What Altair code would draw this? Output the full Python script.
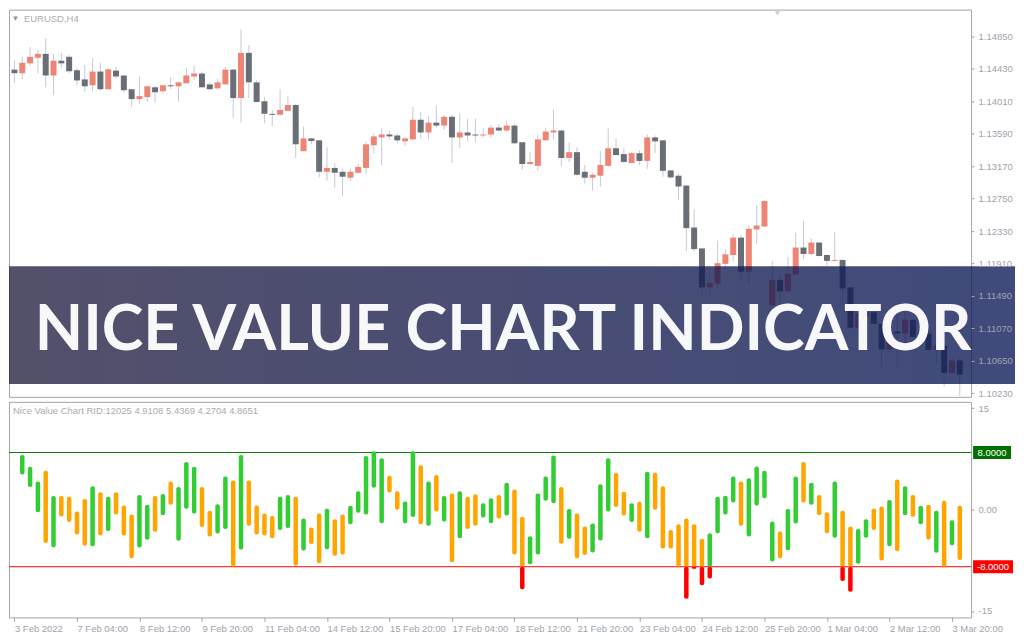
import altair as alt
import pandas as pd

# ---------------- data ----------------
TIME_LABELS = ["3 Feb 2022", "7 Feb 04:00", "8 Feb 12:00", "9 Feb 20:00", "11 Feb 04:00",
               "14 Feb 12:00", "15 Feb 20:00", "17 Feb 04:00", "18 Feb 12:00", "21 Feb 20:00",
               "23 Feb 04:00", "24 Feb 12:00", "25 Feb 20:00", "1 Mar 04:00", "2 Mar 12:00",
               "3 Mar 20:00"]
PRICE_TICKS = [1.14850, 1.14430, 1.14010, 1.13590, 1.13170, 1.12750,
               1.12330, 1.11910, 1.11490, 1.11070, 1.10650, 1.10230]
IND_TICK_POS = [14.2, 0.0, -14.2]
IND_TICK_LABELS = ["15", "0.00", "-15"]
LEVEL_HIGH, LEVEL_LOW = 8.0, -8.0
LEVEL_LABELS = ["8.0000", "-8.0000"]
SYMBOL = "EURUSD,H4"
IND_TITLE = "Nice Value Chart RID:12025 4.9108 5.4369 4.2704 4.8651"
BANNER = "NICE VALUE CHART INDICATOR"
BANNER_TOP, BANNER_BOTTOM, BANNER_BASE = 1.11876, 1.10349, 1.10794

OPEN = [1.14421, 1.14375, 1.14502, 1.14574, 1.14625, 1.14345, 1.14536, 1.14587, 1.14413, 1.14294,
        1.14218, 1.14396, 1.14167, 1.14408, 1.14345, 1.14167, 1.14039, 1.14065, 1.14192, 1.14141,
        1.14218, 1.14205, 1.14243, 1.14332, 1.14370, 1.14230, 1.14179, 1.14230, 1.14421, 1.14052,
        1.14638, 1.14256, 1.14010, 1.13848, 1.13836, 1.13887, 1.13963, 1.13365, 1.13530, 1.13505,
        1.13098, 1.13148, 1.13098, 1.13021, 1.13085, 1.13148, 1.13441, 1.13543, 1.13581, 1.13568,
        1.13492, 1.13518, 1.13772, 1.13607, 1.13734, 1.13696, 1.13810, 1.13543, 1.13607, 1.13581,
        1.13568, 1.13581, 1.13670, 1.13632, 1.13696, 1.13479, 1.13199, 1.13174, 1.13505, 1.13607,
        1.13632, 1.13276, 1.13352, 1.13098, 1.13021, 1.13047, 1.13174, 1.13403, 1.13327, 1.13212,
        1.13339, 1.13238, 1.13543, 1.13505, 1.13115, 1.13047, 1.12919, 1.12376, 1.12105, 1.11600,
        1.11651, 1.11905, 1.12020, 1.12245, 1.11804, 1.12351, 1.12389, 1.11371, 1.11697, 1.11549,
        1.11765, 1.12117, 1.12033, 1.12181, 1.12020, 1.11944, 1.11956, 1.11600, 1.11078, 1.11222,
        1.11277, 1.11129, 1.10798, 1.11031, 1.11002, 1.11180, 1.10959, 1.11002, 1.10790, 1.10845,
        1.10493, 1.10654]
HIGH = [1.14544, 1.14587, 1.14714, 1.14680, 1.14828, 1.14629, 1.14638, 1.14608, 1.14438, 1.14481,
        1.14574, 1.14510, 1.14438, 1.14459, 1.14345, 1.14167, 1.14332, 1.14213, 1.14213, 1.14218,
        1.14324, 1.14268, 1.14447, 1.14472, 1.14396, 1.14256, 1.14307, 1.14459, 1.14434, 1.14943,
        1.14739, 1.14281, 1.14065, 1.13899, 1.14167, 1.14078, 1.13976, 1.13683, 1.13535, 1.13505,
        1.13416, 1.13212, 1.13136, 1.13136, 1.13212, 1.13492, 1.13594, 1.13670, 1.13632, 1.13594,
        1.13543, 1.13938, 1.13874, 1.13823, 1.13950, 1.13836, 1.13836, 1.13848, 1.13785, 1.13785,
        1.13670, 1.13708, 1.13708, 1.13759, 1.13721, 1.13479, 1.13352, 1.13568, 1.13670, 1.13899,
        1.13645, 1.13479, 1.13416, 1.13187, 1.13085, 1.13365, 1.13658, 1.13530, 1.13403, 1.13352,
        1.13378, 1.13581, 1.13568, 1.13505, 1.13127, 1.13072, 1.12932, 1.12614, 1.12117, 1.11787,
        1.12207, 1.12096, 1.12287, 1.12274, 1.12402, 1.12665, 1.12733, 1.11944, 1.11765, 1.11990,
        1.12308, 1.12465, 1.12232, 1.12190, 1.12028, 1.12317, 1.11965, 1.11600, 1.11299, 1.11299,
        1.11299, 1.11129, 1.11065, 1.11400, 1.11328, 1.11193, 1.11065, 1.11044, 1.10959, 1.10938,
        1.10705, 1.10684]
LOW = [1.14247, 1.14298, 1.14468, 1.14375, 1.14192, 1.14090, 1.14438, 1.14375, 1.14218, 1.14128,
       1.14141, 1.14150, 1.14167, 1.14302, 1.14128, 1.13942, 1.13976, 1.14001, 1.13993, 1.14112,
       1.14171, 1.14001, 1.14243, 1.14281, 1.14192, 1.14154, 1.14162, 1.14230, 1.13798, 1.13734,
       1.14052, 1.14001, 1.13725, 1.13687, 1.13823, 1.13887, 1.13276, 1.13365, 1.13454, 1.13021,
       1.12983, 1.12894, 1.12779, 1.12983, 1.13072, 1.13072, 1.13339, 1.13187, 1.13518, 1.13467,
       1.13433, 1.13505, 1.13530, 1.13518, 1.13670, 1.13645, 1.13212, 1.13403, 1.13492, 1.13479,
       1.13543, 1.13543, 1.13619, 1.13619, 1.13454, 1.13123, 1.13187, 1.13110, 1.13505, 1.13518,
       1.13174, 1.13225, 1.13047, 1.12945, 1.12856, 1.12907, 1.13161, 1.13314, 1.13212, 1.13212,
       1.13187, 1.13136, 1.13339, 1.13034, 1.13008, 1.12729, 1.12071, 1.12071, 1.11511, 1.11498,
       1.11587, 1.11842, 1.11944, 1.11676, 1.11638, 1.12168, 1.12381, 1.11360, 1.11405, 1.11540,
       1.11765, 1.11965, 1.12020, 1.11999, 1.11884, 1.11935, 1.11405, 1.11050, 1.10981, 1.11214,
       1.11129, 1.10569, 1.10747, 1.10569, 1.10768, 1.10938, 1.10938, 1.10781, 1.10620, 1.10323,
       1.10471, 1.10196]
CLOSE = [1.14375, 1.14510, 1.14587, 1.14625, 1.14345, 1.14536, 1.14502, 1.14400, 1.14281, 1.14205,
         1.14396, 1.14167, 1.14425, 1.14332, 1.14154, 1.14039, 1.14078, 1.14205, 1.14128, 1.14218,
         1.14205, 1.14256, 1.14345, 1.14370, 1.14192, 1.14167, 1.14256, 1.14421, 1.14052, 1.14638,
         1.14256, 1.14001, 1.13848, 1.13836, 1.13899, 1.13963, 1.13454, 1.13530, 1.13496, 1.13098,
         1.13148, 1.13085, 1.13034, 1.13098, 1.13161, 1.13454, 1.13556, 1.13581, 1.13556, 1.13505,
         1.13530, 1.13772, 1.13607, 1.13734, 1.13696, 1.13810, 1.13543, 1.13607, 1.13568, 1.13568,
         1.13581, 1.13670, 1.13632, 1.13696, 1.13467, 1.13199, 1.13225, 1.13518, 1.13619, 1.13632,
         1.13276, 1.13352, 1.13059, 1.13021, 1.13059, 1.13187, 1.13403, 1.13314, 1.13225, 1.13339,
         1.13238, 1.13543, 1.13492, 1.13110, 1.13025, 1.12907, 1.12368, 1.12096, 1.11600, 1.11659,
         1.11914, 1.12028, 1.12245, 1.11804, 1.12359, 1.12402, 1.12720, 1.11697, 1.11549, 1.11778,
         1.12117, 1.12033, 1.12181, 1.12007, 1.11944, 1.11956, 1.11587, 1.11078, 1.11265, 1.11277,
         1.11129, 1.10798, 1.11031, 1.11002, 1.11180, 1.10959, 1.11010, 1.10790, 1.10845, 1.10493,
         1.10654, 1.10471]

# Nice Value Chart bars (bars 1..121)
IND_HIGH = [7.64, 6.00, 3.95, 5.45, 1.91, 1.91, 1.82, -0.27, 1.50, 3.27,
            2.45, 1.82, 2.45, 0.59, -0.68, 2.05, 0.68, 1.91, 2.18, 3.95,
            3.18, 6.68, 6.00, 3.18, -0.14, 0.77, 4.64, 4.09, 7.64, 4.09,
            0.59, -0.55, -0.91, 1.82, 2.05, 1.82, -1.23, -2.50, -0.55, 0.14,
            -1.36, -0.68, 0.55, 2.59, 7.50, 8.18, 7.18, 4.73, 2.59, 1.14,
            8.18, 6.23, 3.95, 4.86, 1.91, 2.27, 2.59, 1.82, 2.14, 0.91,
            1.59, 2.05, 3.77, 2.82, -1.00, -3.73, 2.27, 4.64, 7.59, 3.18,
            0.09, -0.55, -2.36, -1.95, 3.55, 7.18, 5.14, 2.50, 0.91, 1.09,
            5.32, 5.18, 3.27, -2.86, -2.05, -1.23, -2.05, -4.09, -3.32, 1.82,
            1.95, 4.64, 3.95, 4.41, 6.05, 5.45, -1.68, -3.05, 0.09, 4.64,
            6.68, 3.77, 2.05, -0.36, 3.95, -0.14, -2.36, -2.73, -1.36, 0.14,
            0.45, 1.36, 4.23, 3.27, 2.05, 0.55, 0.68, -0.14, 1.23, -1.50,
            0.55]
IND_LOW = [4.91, 3.18, -0.36, -4.68, -5.27, -0.95, -1.73, -3.50, -5.05, -5.14,
           -3.64, -3.00, -0.68, -3.64, -6.82, -5.32, -4.23, -3.09, -0.77, 0.68,
           -4.36, 0.14, -0.55, -2.45, -3.77, -3.36, -2.73, -8.00, -5.59, -2.27,
           -3.50, -3.64, -4.00, -2.86, -2.59, -7.82, -5.73, -4.82, -7.50, -5.55,
           -6.45, -6.27, -2.05, -0.45, -0.68, 3.05, -1.91, 2.41, 0.00, -1.91,
           -1.05, -2.05, -2.27, -0.27, -1.68, -7.36, -4.00, -2.73, -2.27, -1.09,
           -1.91, -1.23, -0.82, -6.27, -11.14, -7.64, -6.27, 1.23, 0.91, -4.77,
           -4.09, -6.82, -6.36, -6.00, -4.32, -0.27, 0.36, -0.82, -1.73, -3.09,
           -4.00, 0.00, -5.45, -5.45, -8.00, -12.50, -8.27, -10.59, -9.64, -3.32,
           -0.68, 1.00, -2.27, -3.77, 0.59, 1.59, -7.27, -6.82, -5.68, -1.95,
           1.00, 0.68, -0.77, -3.32, -3.95, -10.00, -11.50, -7.59, -3.95, -2.86,
           -7.14, -5.14, -5.82, -0.77, -1.00, -2.05, -4.18, -6.05, -8.00, -5.00,
           -7.05]
IND_UP = [1, 1, 1, 0, 1, 0, 0, 0, 0, 1,
          0, 1, 0, 0, 0, 1, 1, 0, 1, 0,
          1, 1, 1, 0, 0, 1, 1, 0, 1, 0,
          0, 0, 0, 1, 1, 0, 1, 0, 0, 1,
          0, 0, 1, 1, 1, 1, 1, 0, 0, 1,
          1, 0, 1, 0, 1, 0, 1, 0, 0, 1,
          1, 0, 1, 0, 0, 1, 1, 1, 1, 0,
          1, 0, 0, 1, 1, 1, 0, 0, 1, 0,
          1, 0, 0, 0, 0, 0, 0, 0, 1, 1,
          1, 1, 0, 1, 1, 1, 1, 0, 1, 1,
          0, 1, 0, 0, 1, 0, 0, 1, 1, 0,
          0, 1, 0, 1, 0, 1, 0, 1, 0, 1,
          0]

# ---------------- styles ----------------
BULL, BEAR, WICK = "#ee8574", "#6a6e77", "#c6cad2"
GREEN, ORANGE, RED = "#32cd32", "#ffa500", "#ff0000"
LINE_GREEN, BOX_GREEN = "#0a7a0a", "#007000"
FRAME, AXIS_TXT = "#a2a4a8", "#9ea3ad"
FONT = "Liberation Sans"
W, H1, H2 = 964, 388, 216

candles = pd.DataFrame({"i": list(range(len(OPEN))), "open": OPEN, "high": HIGH,
                        "low": LOW, "close": CLOSE})
candles["dir"] = ["up" if c >= o else "down" for o, c in zip(OPEN, CLOSE)]

rows = []
for k, (h, l, u) in enumerate(zip(IND_HIGH, IND_LOW, IND_UP)):
    i = k + 1
    col = "green" if u else "orange"
    bot = max(l, LEVEL_LOW)
    if h > bot:
        rows.append({"i": i, "top": h, "bot": bot, "c": col})
    if l < LEVEL_LOW:
        rows.append({"i": i, "top": min(h, LEVEL_LOW), "bot": l, "c": "ext"})
ind = pd.DataFrame(rows)
one = pd.DataFrame({"k": [0]})

x_scale = alt.Scale(domain=[-0.06, 121.81], nice=False, zero=False)
y_price = alt.Scale(domain=[1.10183, 1.15198], nice=False, zero=False)
y_ind = alt.Scale(domain=[-15.1, 15.1], nice=False, zero=False)

# ---------------- top panel ----------------
price_axis = alt.Axis(orient="right", values=PRICE_TICKS, format=".5f", title=None,
                      tickCount=len(PRICE_TICKS) + 4,
                      tickSize=3, labelPadding=4, domain=False, grid=False, zindex=1,
                      labelOverlap=False, labelFlush=False)
cb = alt.Chart(candles)
wicks = cb.mark_rule(color=WICK, strokeWidth=1).encode(
    x=alt.X("i:Q", scale=x_scale, axis=None),
    y=alt.Y("low:Q", scale=y_price, axis=price_axis),
    y2="high:Q")
bodies = cb.mark_bar(size=6).encode(
    x=alt.X("i:Q", scale=x_scale, axis=None),
    y=alt.Y("open:Q", scale=y_price),
    y2="close:Q",
    color=alt.Color("dir:N", scale=alt.Scale(domain=["up", "down"], range=[BULL, BEAR]),
                    legend=None))
banner = alt.Chart(one).mark_rect(
    color=alt.Gradient(gradient="linear",
                       stops=[alt.GradientStop(color="#221f41", offset=0),
                              alt.GradientStop(color="#0a1856", offset=1)],
                       x1=0, x2=1, y1=0, y2=0),
    opacity=0.78).encode(x=alt.value(0), x2=alt.value(W + 44),
                         y=alt.datum(BANNER_TOP), y2=alt.datum(BANNER_BOTTOM))
banner_text = alt.Chart(one).mark_text(
    text=BANNER, font="Lato", fontWeight="bold", fontSize=63, color="white", opacity=0.96,
    align="center", baseline="alphabetic").encode(x=alt.value(495), y=alt.datum(BANNER_BASE))
sym_text = alt.Chart(one).mark_text(
    text=SYMBOL, font=FONT, fontSize=9.5, color="#a9abb1", align="left",
    baseline="middle").encode(x=alt.value(15), y=alt.value(9))
sym_tri = alt.Chart(one).mark_point(shape="triangle-down", filled=True, size=22,
                                     color="#8e9096", opacity=1).encode(
    x=alt.value(6.5), y=alt.value(9))
shift_tri = alt.Chart(one).mark_point(shape="triangle-down", filled=True, size=45,
                                       color="#cbcfd8", opacity=1).encode(
    x=alt.value(770), y=alt.value(3))
top = alt.layer(wicks, bodies, banner, banner_text, sym_text, sym_tri, shift_tri).properties(
    width=W, height=H1)

# ---------------- indicator panel ----------------
time_expr = "[" + ",".join("'" + s + "'" for s in TIME_LABELS) + "][round(datum.value / 8)]"
ind_expr = "".join("datum.value == " + str(p) + " ? '" + l + "' : "
                   for p, l in zip(IND_TICK_POS, IND_TICK_LABELS)) + "''"
x_axis = alt.Axis(values=[8 * k for k in range(len(TIME_LABELS))], labelExpr=time_expr,
                  tickCount=len(TIME_LABELS) + 4,
                  labelAlign="left", labelBaseline="top", tickSize=4, labelPadding=2,
                  domain=False, grid=False, title=None, labelFlush=False, labelOverlap=False)
ind_axis = alt.Axis(orient="right", values=IND_TICK_POS, labelExpr=ind_expr, title=None,
                    tickSize=3, labelPadding=4, domain=False, grid=False, zindex=1,
                    labelOverlap=False, labelFlush=False)

lvl_hi = alt.Chart(one).mark_rule(color=LINE_GREEN, strokeWidth=1).encode(y=alt.datum(LEVEL_HIGH))
lvl_lo = alt.Chart(one).mark_rule(color=RED, strokeWidth=1).encode(y=alt.datum(LEVEL_LOW))
bars = alt.Chart(ind).mark_bar(size=4.5, cornerRadius=2).encode(
    x=alt.X("i:Q", scale=x_scale, axis=x_axis),
    y=alt.Y("top:Q", scale=y_ind, axis=ind_axis),
    y2="bot:Q",
    color=alt.Color("c:N", scale=alt.Scale(domain=["green", "orange", "ext"],
                                           range=[GREEN, ORANGE, RED]), legend=None))
box_hi = alt.Chart(one).mark_rect(color=BOX_GREEN, yOffset=-6.5, y2Offset=6.5).encode(
    x=alt.value(W + 2), x2=alt.value(W + 40), y=alt.datum(LEVEL_HIGH), y2=alt.datum(LEVEL_HIGH))
box_lo = alt.Chart(one).mark_rect(color=RED, yOffset=-6.5, y2Offset=6.5).encode(
    x=alt.value(W + 2), x2=alt.value(W + 42), y=alt.datum(LEVEL_LOW), y2=alt.datum(LEVEL_LOW))
txt_hi = alt.Chart(one).mark_text(text=LEVEL_LABELS[0], font=FONT, fontSize=9.5, color="white",
                                  align="center", baseline="middle").encode(
    x=alt.value(W + 21), y=alt.datum(LEVEL_HIGH))
txt_lo = alt.Chart(one).mark_text(text=LEVEL_LABELS[1], font=FONT, fontSize=9.5, color="white",
                                  align="center", baseline="middle").encode(
    x=alt.value(W + 22), y=alt.datum(LEVEL_LOW))
ind_title = alt.Chart(one).mark_text(text=IND_TITLE, font=FONT, fontSize=9.5, color="#a9abb1",
                                     align="left", baseline="middle").encode(
    x=alt.value(4), y=alt.value(9))
bottom = alt.layer(lvl_hi, lvl_lo, bars, box_hi, box_lo, txt_hi, txt_lo, ind_title).properties(
    width=W, height=H2)

chart = alt.vconcat(top, bottom, spacing=2).resolve_scale(color="independent").properties(
    padding=0, background="white"
).configure_view(stroke=FRAME, strokeWidth=1).configure_axis(
    labelFont=FONT, labelFontSize=9.5, labelColor=AXIS_TXT, tickColor=FRAME)

chart.save("out.html", embed_options={"renderer": "svg", "actions": False})
